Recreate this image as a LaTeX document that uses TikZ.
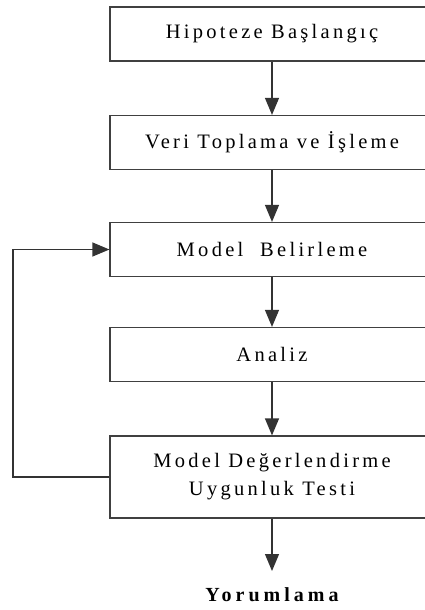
\documentclass[tikz,border=0pt]{standalone}
\usepackage{fontspec}
\setmainfont{Liberation Serif}
\usetikzlibrary{arrows.meta}
\begin{document}
\begin{tikzpicture}[x=1pt,y=-1pt,
  line width=1.2pt,
  stepbox/.style={draw=black!75, minimum width=324pt, minimum height=#1, inner sep=0pt, align=center,
    font=\fontsize{20.5}{28}\selectfont\addfontfeature{LetterSpace=16}},
  stepbox/.default=54pt,
  arr/.style={-{Triangle[length=17pt,width=14pt]}, draw=black!80}]
\useasboundingbox (0,0) rectangle (425,610);
\node[stepbox] (b1) at (272,34) {Hipoteze Başlangıç};
\node[stepbox] (b2) at (272,142.5) {Veri Toplama ve İşleme};
\node[stepbox] (b3) at (272,249.5) {Model\ \ Belirleme};
\node[stepbox] (b4) at (272,354.5) {Analiz};
\node[stepbox=82pt] (b5) at (272,477) {Model Değerlendirme\\Uygunluk Testi};
\node[font=\fontsize{20}{22}\selectfont\bfseries\addfontfeature{LetterSpace=20}, inner sep=0pt] (y) at (272,595) {Yorumlama};
\coordinate (yt) at (272,571);
\coordinate (fb) at (13,0);
\draw[arr] (b1) -- (b2);
\draw[arr] (b2) -- (b3);
\draw[arr] (b3) -- (b4);
\draw[arr] (b4) -- (b5);
\draw[arr] (b5) -- (yt);
\draw[arr] (b5.west) -| (fb |- b5.west) |- (b3.west);
\end{tikzpicture}
\end{document}
